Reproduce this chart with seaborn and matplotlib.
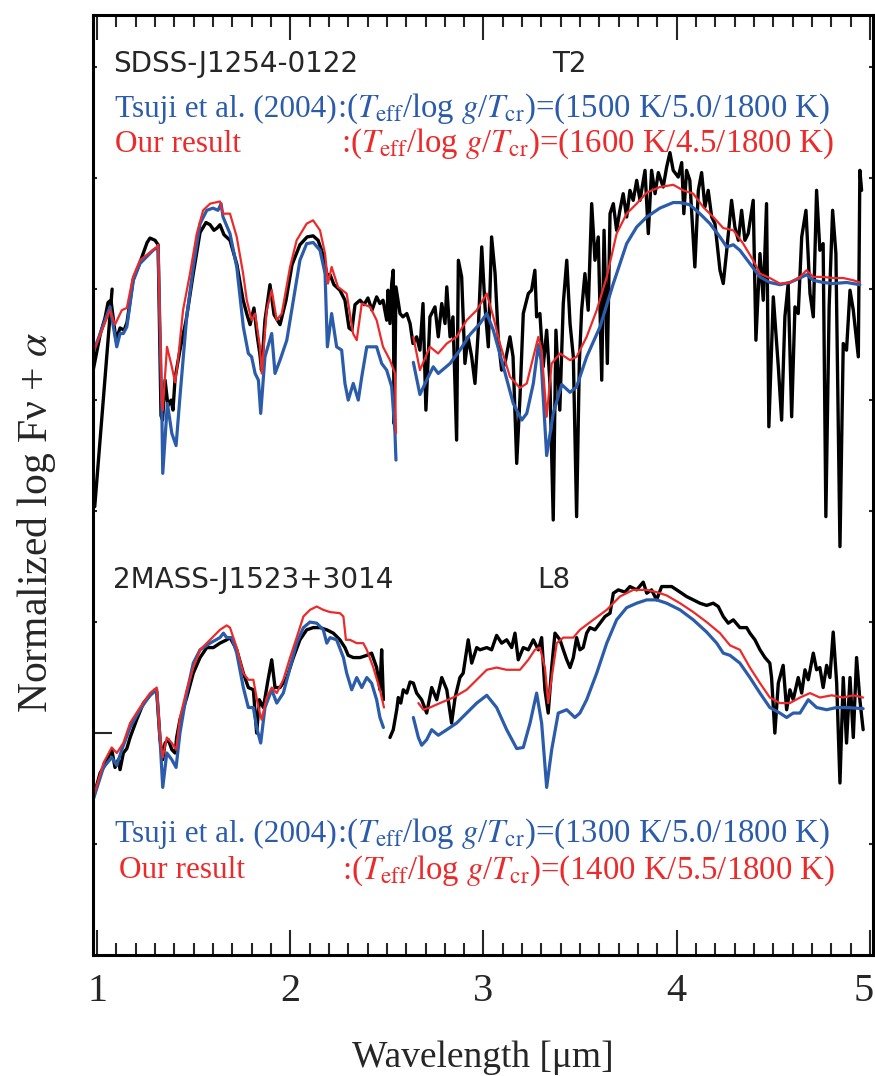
import matplotlib
matplotlib.use("Agg")
import matplotlib.pyplot as plt
import matplotlib.transforms as mtransforms
import numpy as np
import pandas as pd
import seaborn as sns
from matplotlib.ticker import MultipleLocator, FixedLocator

# ---------------------------------------------------------------------------
# SDSS-J1254-0122 (T2): observed spectrum and two model fits
# ---------------------------------------------------------------------------
t2_obs_lead_wl = [0.988, 1.078]
t2_obs_lead_flux = [4.04, 6.00]

t2_obs_wl = [
    0.980, 1.016, 1.041, 1.057, 1.072, 1.098, 1.119, 1.140, 1.155, 1.186,
    1.222, 1.259, 1.274, 1.300, 1.316, 1.331, 1.339, 1.352, 1.367, 1.383,
    1.393, 1.404, 1.429, 1.461, 1.497, 1.533, 1.564, 1.585, 1.605, 1.621,
    1.636, 1.657, 1.688, 1.724, 1.756, 1.776, 1.792, 1.812, 1.828, 1.843,
    1.851, 1.869, 1.895, 1.916, 1.947, 1.978, 2.009, 2.050, 2.087, 2.118,
    2.144, 2.170, 2.190, 2.206, 2.226, 2.257, 2.283, 2.304, 2.319, 2.335,
    2.361, 2.382, 2.402, 2.423, 2.447, 2.464, 2.480, 2.499, 2.506, 2.516,
    2.525, 2.533, 2.537, 2.542, 2.547, 2.568, 2.583, 2.603, 2.620, 2.635,
    2.654, 2.671, 2.687, 2.702, 2.723, 2.749, 2.766, 2.784, 2.801, 2.810,
    2.827, 2.842, 2.861, 2.870, 2.887, 2.904, 2.920, 2.939, 2.956, 2.972,
    2.991, 3.008, 3.025, 3.042, 3.060, 3.077, 3.094, 3.111, 3.137, 3.153,
    3.172, 3.189, 3.206, 3.232, 3.249, 3.266, 3.275, 3.292, 3.309, 3.327,
    3.344, 3.361, 3.375, 3.395, 3.413, 3.431, 3.448, 3.465, 3.482, 3.496,
    3.508, 3.525, 3.542, 3.560, 3.577, 3.594, 3.612, 3.624, 3.641, 3.655,
    3.672, 3.689, 3.706, 3.723, 3.741, 3.758, 3.775, 3.793, 3.810, 3.836,
    3.853, 3.870, 3.888, 3.905, 3.930, 3.948, 3.965, 3.982, 4.008, 4.026,
    4.037, 4.051, 4.068, 4.094, 4.112, 4.129, 4.146, 4.163, 4.181, 4.198,
    4.224, 4.241, 4.259, 4.284, 4.301, 4.319, 4.336, 4.353, 4.370, 4.396,
    4.410, 4.431, 4.448, 4.465, 4.477, 4.500, 4.526, 4.543, 4.560, 4.577,
    4.595, 4.612, 4.629, 4.647, 4.669, 4.690, 4.707, 4.724, 4.741, 4.758,
    4.772, 4.789, 4.807, 4.824, 4.845, 4.862, 4.879, 4.897, 4.914, 4.940,
    4.948, 4.957,
]
t2_obs_flux = [
    5.27, 5.59, 5.74, 5.88, 5.90, 5.54, 5.65, 5.63, 5.70, 6.08,
    6.24, 6.42, 6.46, 6.44, 6.40, 4.86, 4.82, 5.18, 4.95, 5.00,
    4.91, 5.20, 5.45, 5.72, 6.13, 6.51, 6.60, 6.58, 6.53, 6.55,
    6.58, 6.49, 6.44, 6.22, 5.90, 5.77, 5.68, 5.83, 5.59, 5.41,
    5.27, 5.72, 6.04, 5.77, 5.68, 5.90, 6.22, 6.40, 6.47, 6.48,
    6.44, 6.31, 6.13, 6.13, 6.04, 5.99, 5.90, 5.65, 5.63, 5.86,
    5.90, 5.86, 5.92, 5.81, 5.93, 5.87, 5.90, 5.72, 5.99, 5.69,
    6.05, 6.17, 4.79, 5.27, 6.02, 5.78, 5.75, 5.78, 5.69, 5.51,
    5.57, 5.45, 5.87, 4.91, 5.75, 5.84, 5.57, 5.87, 5.69, 6.02,
    5.57, 5.75, 4.64, 6.26, 6.11, 5.33, 5.57, 5.39, 5.15, 5.60,
    6.38, 5.84, 5.48, 6.47, 6.14, 5.54, 5.27, 5.33, 5.57, 5.39,
    4.43, 5.03, 5.78, 5.96, 5.99, 6.17, 5.75, 5.78, 5.30, 5.63,
    5.15, 3.92, 5.63, 4.91, 5.87, 6.26, 5.69, 5.39, 3.95, 5.33,
    5.81, 6.14, 5.81, 6.77, 6.26, 6.47, 5.18, 6.53, 5.33, 6.68,
    6.77, 6.53, 6.71, 6.86, 6.65, 6.89, 6.80, 6.98, 6.80, 7.07,
    6.50, 7.07, 6.86, 7.05, 6.92, 7.10, 7.23, 7.07, 7.01, 7.14,
    6.68, 7.07, 6.98, 6.20, 6.89, 7.05, 6.74, 6.89, 6.65, 6.59,
    6.17, 6.05, 6.35, 6.80, 6.56, 6.44, 6.71, 6.44, 6.50, 6.80,
    5.54, 6.32, 5.90, 6.77, 4.76, 5.93, 5.30, 4.82, 5.75, 6.05,
    4.85, 5.84, 5.78, 6.47, 6.71, 5.96, 5.75, 6.89, 6.35, 6.41,
    3.95, 5.84, 6.71, 6.32, 3.68, 5.51, 5.45, 5.99, 5.81, 5.39,
    7.07, 6.89,
]

# Tsuji et al. (2004) model, two wavelength windows
t2_tsuji_wl_a = [
    0.980, 1.067, 1.102, 1.119, 1.136, 1.154, 1.188, 1.222, 1.290, 1.316,
    1.335, 1.340, 1.364, 1.387, 1.409, 1.429, 1.464, 1.498, 1.533, 1.568,
    1.600, 1.626, 1.642, 1.652, 1.688, 1.723, 1.757, 1.783, 1.800, 1.818,
    1.835, 1.847, 1.869, 1.904, 1.921, 1.947, 1.982, 2.016, 2.050, 2.085,
    2.119, 2.154, 2.180, 2.192, 2.214, 2.240, 2.266, 2.283, 2.300, 2.326,
    2.352, 2.370, 2.396, 2.447, 2.473, 2.499, 2.525, 2.542, 2.547,
]
t2_tsuji_flux_a = [
    5.43, 5.84, 5.48, 5.60, 5.60, 5.66, 6.08, 6.23, 6.35, 6.38,
    4.94, 4.34, 4.97, 4.70, 4.59, 5.03, 5.75, 6.20, 6.59, 6.71,
    6.73, 6.71, 6.77, 6.65, 6.50, 6.20, 5.66, 5.42, 5.39, 5.24,
    5.18, 4.88, 5.39, 5.60, 5.24, 5.36, 5.54, 5.90, 6.26, 6.41,
    6.42, 6.35, 6.14, 5.48, 5.78, 5.48, 5.45, 5.15, 5.00, 5.15,
    5.00, 5.21, 5.48, 5.48, 5.33, 5.27, 5.12, 4.70, 4.46,
]
t2_tsuji_wl_b = [
    2.637, 2.671, 2.706, 2.740, 2.766, 2.827, 2.878, 2.930, 2.982, 3.017,
    3.051, 3.103, 3.154, 3.198, 3.224, 3.258, 3.284, 3.298, 3.327, 3.361,
    3.405, 3.448, 3.482, 3.534, 3.603, 3.672, 3.741, 3.793, 3.845, 3.913,
    3.982, 4.017, 4.068, 4.120, 4.172, 4.224, 4.259, 4.293, 4.327, 4.379,
    4.431, 4.482, 4.534, 4.586, 4.638, 4.672, 4.707, 4.758, 4.810, 4.879,
    4.948,
]
t2_tsuji_flux_b = [
    5.34, 5.05, 5.18, 5.30, 5.24, 5.33, 5.45, 5.59, 5.69, 5.78,
    5.63, 5.30, 4.97, 4.82, 4.88, 5.15, 5.50, 5.36, 4.50, 4.88,
    5.14, 5.07, 5.12, 5.39, 5.66, 6.05, 6.41, 6.56, 6.65, 6.73,
    6.78, 6.78, 6.76, 6.68, 6.59, 6.47, 6.38, 6.40, 6.35, 6.23,
    6.11, 6.06, 6.04, 6.06, 6.10, 6.13, 6.08, 6.06, 6.05, 6.06,
    6.04,
]

# Our best-fit model, two wavelength windows
t2_ours_wl_a = [
    0.980, 1.067, 1.093, 1.128, 1.154, 1.186, 1.222, 1.309, 1.316, 1.335,
    1.340, 1.362, 1.387, 1.404, 1.419, 1.445, 1.481, 1.516, 1.549, 1.585,
    1.636, 1.652, 1.688, 1.723, 1.756, 1.775, 1.800, 1.818, 1.843, 1.852,
    1.878, 1.904, 1.930, 1.956, 1.999, 2.033, 2.085, 2.118, 2.154, 2.180,
    2.195, 2.214, 2.247, 2.292, 2.325, 2.344, 2.370, 2.413, 2.447, 2.480,
    2.516, 2.542, 2.547,
]
t2_ours_flux_a = [
    5.43, 5.81, 5.68, 5.81, 5.83, 6.11, 6.26, 6.38, 6.40, 5.00,
    4.91, 5.48, 5.30, 5.16, 5.36, 5.81, 6.14, 6.50, 6.71, 6.77,
    6.79, 6.68, 6.68, 6.47, 6.14, 5.90, 5.72, 5.78, 5.48, 5.24,
    5.81, 5.99, 5.72, 5.78, 6.20, 6.44, 6.59, 6.62, 6.53, 6.32,
    6.05, 6.20, 6.02, 5.96, 5.60, 5.54, 5.87, 5.84, 5.72, 5.48,
    5.36, 5.24, 4.70,
]
t2_ours_wl_b = [
    2.637, 2.671, 2.723, 2.765, 2.810, 2.861, 2.913, 2.965, 3.017, 3.051,
    3.085, 3.137, 3.189, 3.224, 3.258, 3.284, 3.301, 3.327, 3.353, 3.396,
    3.448, 3.482, 3.534, 3.586, 3.638, 3.689, 3.741, 3.793, 3.845, 3.913,
    3.982, 4.034, 4.086, 4.137, 4.189, 4.241, 4.293, 4.344, 4.396, 4.431,
    4.482, 4.534, 4.586, 4.638, 4.672, 4.707, 4.758, 4.810, 4.862, 4.914,
    4.948,
]
t2_ours_flux_b = [
    5.57, 5.27, 5.48, 5.42, 5.51, 5.57, 5.72, 5.81, 5.96, 5.75,
    5.51, 5.21, 5.11, 5.15, 5.39, 5.57, 5.45, 4.85, 5.33, 5.42,
    5.36, 5.39, 5.57, 5.81, 6.11, 6.50, 6.68, 6.77, 6.87, 6.92,
    6.94, 6.89, 6.86, 6.74, 6.65, 6.55, 6.53, 6.41, 6.26, 6.14,
    6.10, 6.05, 6.06, 6.11, 6.17, 6.11, 6.11, 6.10, 6.10, 6.08,
    6.06,
]

# ---------------------------------------------------------------------------
# 2MASS-J1523+3014 (L8): observed spectrum and two model fits
# ---------------------------------------------------------------------------
l8_obs_wl_a = [
    0.981, 1.016, 1.050, 1.067, 1.076, 1.093, 1.110, 1.119, 1.136, 1.154,
    1.171, 1.205, 1.240, 1.274, 1.300, 1.309, 1.326, 1.340, 1.352, 1.369,
    1.387, 1.404, 1.412, 1.429, 1.464, 1.498, 1.533, 1.568, 1.602, 1.636,
    1.671, 1.688, 1.723, 1.757, 1.783, 1.809, 1.826, 1.840, 1.861, 1.885,
    1.904, 1.921, 1.947, 1.982, 2.016, 2.050, 2.085, 2.119, 2.154, 2.189,
    2.223, 2.257, 2.283, 2.300, 2.326, 2.361, 2.396, 2.421, 2.447, 2.464,
    2.473, 2.482,
]
l8_obs_flux_a = [
    1.42, 1.64, 1.74, 1.82, 1.85, 1.69, 1.76, 1.67, 1.82, 1.86,
    1.96, 2.12, 2.27, 2.34, 2.39, 2.37, 1.94, 1.76, 1.91, 1.94,
    1.85, 1.82, 1.96, 2.12, 2.32, 2.54, 2.68, 2.77, 2.77, 2.81,
    2.84, 2.86, 2.75, 2.54, 2.41, 2.39, 2.00, 2.30, 2.23, 2.48,
    2.66, 2.41, 2.41, 2.50, 2.68, 2.84, 2.93, 2.95, 2.95, 2.93,
    2.90, 2.84, 2.77, 2.70, 2.68, 2.68, 2.70, 2.72, 2.59, 2.39,
    2.75, 2.30,
]
l8_obs_wl_b = [
    2.516, 2.533, 2.551, 2.559, 2.572, 2.585, 2.603, 2.620, 2.637, 2.654,
    2.680, 2.706, 2.732, 2.758, 2.784, 2.810, 2.835, 2.853, 2.878, 2.895,
    2.921, 2.939, 2.965, 2.982, 3.017, 3.042, 3.068, 3.094, 3.120, 3.146,
    3.163, 3.180, 3.206, 3.232, 3.258, 3.284, 3.301, 3.318, 3.335, 3.353,
    3.370, 3.396, 3.413, 3.431, 3.448, 3.465, 3.482, 3.499, 3.516, 3.534,
    3.551, 3.577, 3.603, 3.629, 3.655, 3.672, 3.698, 3.732, 3.758, 3.793,
    3.827, 3.845, 3.870, 3.896, 3.922, 3.948, 3.974, 4.000, 4.026, 4.051,
    4.086, 4.120, 4.155, 4.189, 4.215, 4.241, 4.267, 4.293, 4.327, 4.362,
    4.379, 4.405, 4.431, 4.457, 4.482, 4.491, 4.508, 4.526, 4.551, 4.569,
    4.586, 4.603, 4.629, 4.647, 4.664, 4.681, 4.707, 4.724, 4.741, 4.758,
    4.776, 4.793, 4.810, 4.828, 4.845, 4.862, 4.879, 4.897, 4.914, 4.931,
    4.948, 4.965,
]
l8_obs_flux_b = [
    1.96, 2.03, 2.21, 2.32, 2.27, 2.39, 2.36, 2.46, 2.45, 2.36,
    2.30, 2.18, 2.41, 2.30, 2.50, 2.39, 2.09, 2.32, 2.50, 2.54,
    2.84, 2.63, 2.77, 2.75, 2.77, 2.75, 2.88, 2.81, 2.84, 2.77,
    2.90, 2.66, 2.77, 2.75, 2.84, 2.75, 2.86, 2.39, 2.18, 2.59,
    2.90, 2.84, 2.75, 2.66, 2.59, 2.68, 2.86, 2.75, 2.77, 2.90,
    2.95, 2.93, 2.99, 3.05, 3.08, 3.26, 3.29, 3.27, 3.32, 3.29,
    3.36, 3.26, 3.29, 3.20, 3.32, 3.32, 3.32, 3.29, 3.26, 3.23,
    3.20, 3.17, 3.15, 3.17, 3.14, 3.05, 2.99, 3.02, 2.95, 2.95,
    2.90, 2.84, 2.75, 2.68, 2.63, 2.50, 2.00, 2.45, 2.61, 2.21,
    2.39, 2.30, 2.50, 2.36, 2.57, 2.48, 2.72, 2.57, 2.59, 2.41,
    2.61, 2.50, 2.91, 2.45, 1.55, 2.50, 1.91, 2.50, 1.96, 2.68,
    2.30, 2.03,
]

l8_tsuji_wl_a = [
    0.980, 1.033, 1.076, 1.102, 1.128, 1.171, 1.222, 1.274, 1.309, 1.326,
    1.340, 1.361, 1.387, 1.409, 1.429, 1.464, 1.498, 1.533, 1.585, 1.636,
    1.654, 1.671, 1.697, 1.723, 1.757, 1.783, 1.809, 1.826, 1.847, 1.869,
    1.904, 1.930, 1.964, 1.999, 2.033, 2.068, 2.102, 2.137, 2.171, 2.189,
    2.206, 2.240, 2.275, 2.292, 2.318, 2.344, 2.370, 2.396, 2.421, 2.447,
    2.464, 2.482,
]
l8_tsuji_flux_a = [
    1.40, 1.69, 1.78, 1.71, 1.85, 2.05, 2.21, 2.34, 2.39, 1.94,
    1.51, 1.82, 1.76, 1.69, 2.00, 2.36, 2.63, 2.75, 2.81, 2.86,
    2.90, 2.86, 2.86, 2.72, 2.41, 2.23, 2.23, 2.05, 1.91, 2.23,
    2.39, 2.27, 2.36, 2.59, 2.81, 2.95, 3.00, 2.99, 2.93, 2.81,
    2.86, 2.84, 2.68, 2.54, 2.39, 2.50, 2.41, 2.50, 2.45, 2.30,
    2.14, 2.05,
]
l8_tsuji_wl_b = [
    2.637, 2.663, 2.680, 2.706, 2.732, 2.766, 2.810, 2.861, 2.913, 2.965,
    3.017, 3.068, 3.120, 3.172, 3.206, 3.241, 3.275, 3.301, 3.327, 3.353,
    3.387, 3.431, 3.473, 3.499, 3.534, 3.586, 3.638, 3.689, 3.741, 3.793,
    3.845, 3.896, 3.948, 4.017, 4.086, 4.155, 4.207, 4.241, 4.276, 4.327,
    4.379, 4.431, 4.482, 4.534, 4.569, 4.603, 4.638, 4.681, 4.724, 4.776,
    4.828, 4.879, 4.965,
]
l8_tsuji_flux_b = [
    2.14, 1.96, 1.89, 1.94, 2.03, 1.98, 2.03, 2.09, 2.18, 2.27,
    2.34, 2.23, 2.03, 1.86, 1.87, 2.09, 2.36, 2.09, 1.51, 1.85,
    2.18, 2.21, 2.14, 2.18, 2.30, 2.54, 2.81, 3.02, 3.13, 3.17,
    3.20, 3.20, 3.17, 3.11, 3.02, 2.91, 2.81, 2.72, 2.70, 2.63,
    2.50, 2.36, 2.23, 2.18, 2.14, 2.18, 2.18, 2.30, 2.23, 2.21,
    2.23, 2.23, 2.22,
]

l8_ours_wl_a = [
    0.980, 1.033, 1.076, 1.102, 1.136, 1.171, 1.222, 1.274, 1.309, 1.326,
    1.340, 1.361, 1.387, 1.409, 1.429, 1.464, 1.498, 1.533, 1.585, 1.636,
    1.671, 1.688, 1.723, 1.757, 1.783, 1.809, 1.835, 1.852, 1.878, 1.904,
    1.930, 1.964, 1.999, 2.033, 2.068, 2.102, 2.137, 2.171, 2.206, 2.257,
    2.275, 2.288, 2.309, 2.344, 2.378, 2.396, 2.430, 2.464, 2.485,
]
l8_ours_flux_a = [
    1.42, 1.73, 1.87, 1.82, 1.91, 2.09, 2.23, 2.36, 2.41, 1.96,
    1.78, 1.96, 1.91, 1.85, 2.14, 2.39, 2.59, 2.75, 2.84, 2.93,
    2.97, 2.95, 2.77, 2.54, 2.48, 2.48, 2.23, 2.12, 2.32, 2.41,
    2.36, 2.48, 2.68, 2.86, 3.05, 3.11, 3.14, 3.11, 3.09, 3.08,
    3.05, 2.84, 2.84, 2.81, 2.81, 2.75, 2.59, 2.39, 2.23,
]
l8_ours_wl_b = [
    2.663, 2.689, 2.723, 2.775, 2.844, 2.913, 2.965, 3.017, 3.068, 3.120,
    3.189, 3.232, 3.266, 3.292, 3.318, 3.335, 3.353, 3.379, 3.413, 3.465,
    3.499, 3.568, 3.638, 3.706, 3.775, 3.845, 3.896, 3.948, 4.017, 4.086,
    4.155, 4.224, 4.276, 4.327, 4.379, 4.431, 4.482, 4.534, 4.586, 4.638,
    4.690, 4.741, 4.802, 4.862, 4.914, 4.965,
]
l8_ours_flux_b = [
    2.27, 2.21, 2.23, 2.27, 2.32, 2.39, 2.48, 2.57, 2.59, 2.57,
    2.57, 2.66, 2.75, 2.77, 2.59, 2.27, 2.50, 2.81, 2.86, 2.86,
    2.93, 3.02, 3.11, 3.23, 3.29, 3.29, 3.27, 3.24, 3.17, 3.09,
    3.00, 2.90, 2.79, 2.75, 2.59, 2.45, 2.32, 2.27, 2.27, 2.32,
    2.36, 2.32, 2.34, 2.32, 2.34, 2.32,
]

# Panel annotations
objects = ["SDSS-J1254-0122", "2MASS-J1523+3014"]
spectral_types = ["T2", "L8"]
tsuji_params = ["(1500 K/5.0/1800 K)", "(1300 K/5.0/1800 K)"]
our_params = ["(1600 K/4.5/1800 K)", "(1400 K/5.5/1800 K)"]
x_ticks = [1, 2, 3, 4, 5]


def segments_frame(segments, name):
    parts = []
    for k, (wl, fl) in enumerate(segments):
        parts.append(pd.DataFrame({"wavelength": wl, "flux": fl,
                                   "segment": f"{name}-{k}"}))
    return pd.concat(parts, ignore_index=True)


obs = segments_frame([(t2_obs_lead_wl, t2_obs_lead_flux),
                      (t2_obs_wl, t2_obs_flux),
                      (l8_obs_wl_a, l8_obs_flux_a),
                      (l8_obs_wl_b, l8_obs_flux_b)], "obs")
tsuji = segments_frame([(t2_tsuji_wl_a, t2_tsuji_flux_a),
                        (t2_tsuji_wl_b, t2_tsuji_flux_b),
                        (l8_tsuji_wl_a, l8_tsuji_flux_a),
                        (l8_tsuji_wl_b, l8_tsuji_flux_b)], "tsuji")
ours = segments_frame([(t2_ours_wl_a, t2_ours_flux_a),
                       (t2_ours_wl_b, t2_ours_flux_b),
                       (l8_ours_wl_a, l8_ours_flux_a),
                       (l8_ours_wl_b, l8_ours_flux_b)], "ours")

sns.set_style("ticks")
plt.rcParams["font.family"] = ["Liberation Serif", "DejaVu Serif"]
plt.rcParams["mathtext.fontset"] = "stix"

BLUE = "#2b5cab"
RED = "#ec2a2a"
SANS = ["DejaVu Sans"]

fig = plt.figure(figsize=(8.75, 10.76), dpi=100)
ax = fig.add_axes([93 / 875, 1 - 955 / 1076, 780 / 875, 940 / 1076])

common = dict(x="wavelength", y="flux", units="segment", estimator=None,
              sort=False, legend=False, ax=ax)
sns.lineplot(data=obs, color="black", linewidth=2.4, **common)
sns.lineplot(data=tsuji, color=BLUE, linewidth=2.3, **common)
sns.lineplot(data=ours, color=RED, linewidth=1.6, **common)

ax.set_xlim(0.979, 5.016)
ax.set_ylim(0, 8.47)

ax.xaxis.set_major_locator(FixedLocator(x_ticks))
ax.set_xticklabels([str(t) for t in x_ticks])
ax.xaxis.set_minor_locator(MultipleLocator(0.1))
ax.yaxis.set_major_locator(FixedLocator([2]))
ax.yaxis.set_minor_locator(FixedLocator([1, 3, 4, 5, 6, 7, 8]))

ax.tick_params(axis="x", which="major", direction="in", length=18, width=1.5,
               top=True, bottom=True, labelsize=29, pad=13)
ax.tick_params(axis="x", which="minor", direction="in", length=8.5, width=1.5,
               top=True, bottom=True)
ax.tick_params(axis="y", which="major", direction="in", length=14, width=1.5,
               left=True, right=False, labelleft=False)
ax.tick_params(axis="y", which="minor", direction="in", length=3, width=1.5,
               left=True, right=True)
for side in ax.spines.values():
    side.set_linewidth(2.2)
    side.set_color("black")

# keep the last wavelength label inside the canvas
last_label = ax.get_xticklabels()[-1]
last_label.set_transform(last_label.get_transform() +
                         mtransforms.ScaledTranslation(-6 / 100, 0, fig.dpi_scale_trans))

ax.set_xlabel("Wavelength [μm]", fontsize=27)
ax.xaxis.set_label_coords(0.5, -0.091)
ax.set_ylabel("")
ax.text(-0.072, 0.46, r"Normalized log Fν + $\alpha$", transform=ax.transAxes,
        rotation=90, ha="center", va="center", fontsize=30)

param_head = r":($T_{\rm eff}$/log $g$/$T_{\rm cr}$)="
LABEL_FS = 22.5
PARAM_FS = 23.6

# upper panel annotations
ax.text(1.083, 8.03, objects[0], family=SANS, fontsize=20, ha="left", va="center")
ax.text(3.442, 8.03, spectral_types[0], family=SANS, fontsize=20, ha="center", va="center")
ax.text(1.093, 7.55, "Tsuji et al. (2004)", color=BLUE, fontsize=LABEL_FS,
        ha="left", va="baseline")
ax.text(2.242, 7.55, param_head + tsuji_params[0], color=BLUE, fontsize=PARAM_FS,
        ha="left", va="baseline")
ax.text(1.093, 7.24, "Our result", color=RED, fontsize=LABEL_FS, ha="left", va="baseline")
ax.text(2.262, 7.24, param_head + our_params[0], color=RED, fontsize=PARAM_FS,
        ha="left", va="baseline")

# lower panel annotations
ax.text(1.083, 3.38, objects[1], family=SANS, fontsize=20, ha="left", va="center")
ax.text(3.365, 3.38, spectral_types[1], family=SANS, fontsize=20, ha="center", va="center")
ax.text(1.093, 1.02, "Tsuji et al. (2004)", color=BLUE, fontsize=LABEL_FS,
        ha="left", va="baseline")
ax.text(2.242, 1.02, param_head + tsuji_params[1], color=BLUE, fontsize=PARAM_FS,
        ha="left", va="baseline")
ax.text(1.114, 0.69, "Our result", color=RED, fontsize=LABEL_FS, ha="left", va="baseline")
ax.text(2.270, 0.69, param_head + our_params[1], color=RED, fontsize=PARAM_FS,
        ha="left", va="baseline")

fig.savefig("out.png", dpi=100)
